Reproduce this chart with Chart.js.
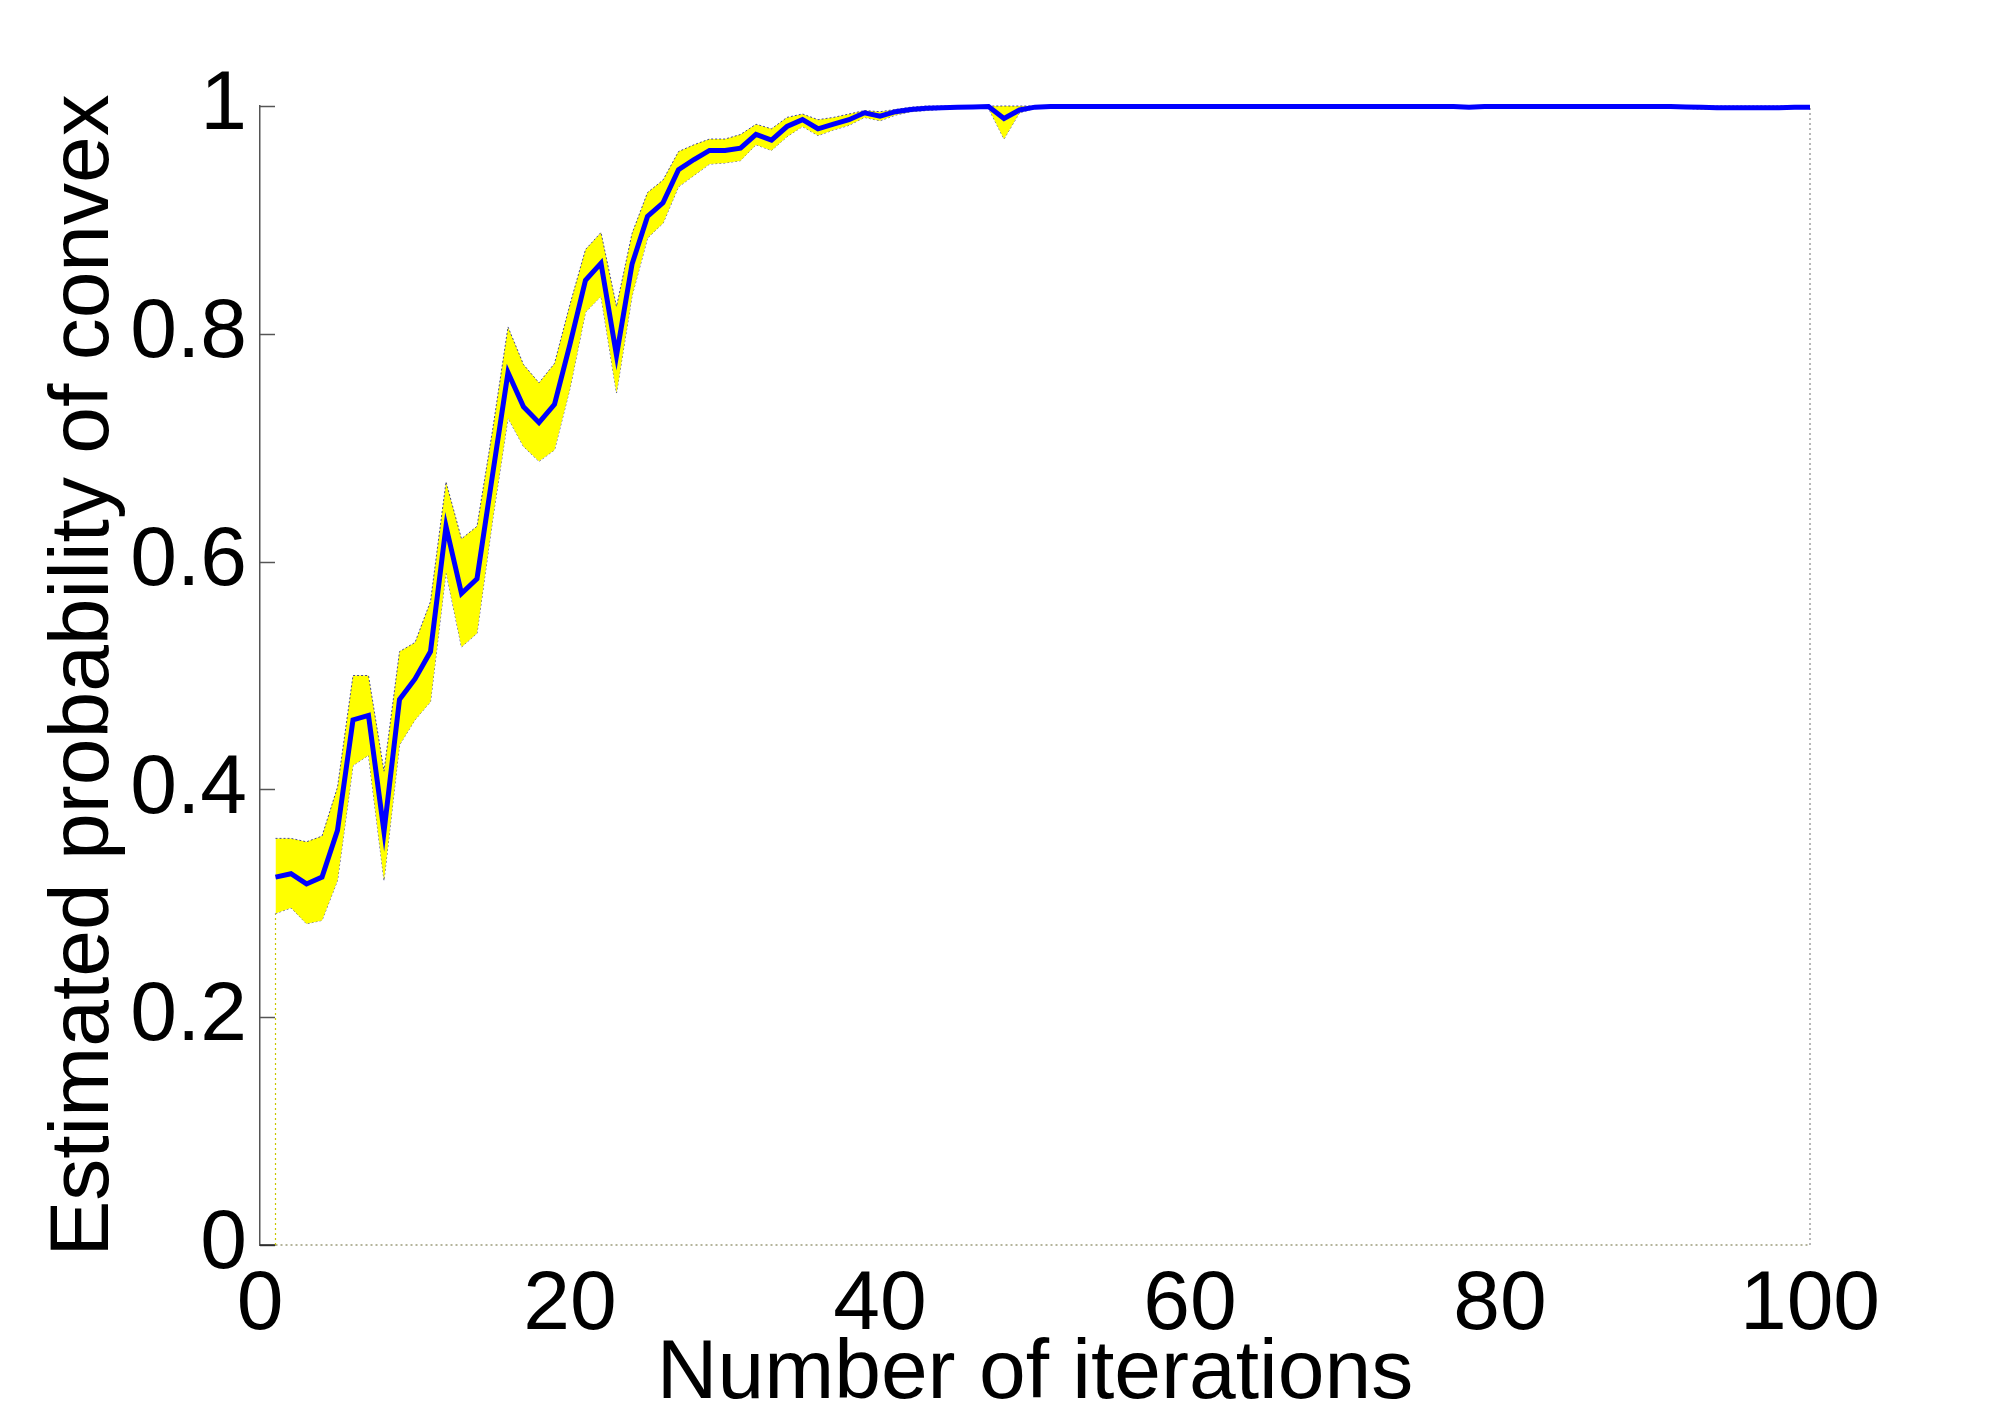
<!DOCTYPE html>
<html><head><meta charset="utf-8">
<script src="https://cdn.jsdelivr.net/npm/chart.js@4"></script>
<style>html,body{margin:0;padding:0;background:#fff;} canvas{display:block;}</style>
</head><body>
<canvas id="c" width="2000" height="1419"></canvas>
<script>
const iterations = Array.from({length: 100}, (_, i) => i + 1);
const meanProb = [
  0.323,0.326,0.317,0.323,0.364,0.461,0.465,0.363,0.479,0.497,
  0.521,0.631,0.572,0.585,0.676,0.766,0.736,0.722,0.738,0.791,
  0.847,0.862,0.781,0.861,0.903,0.915,0.944,0.953,0.961,0.961,
  0.963,0.975,0.970,0.982,0.988,0.980,0.984,0.988,0.994,0.991,
  0.995,0.997,0.998,0.9985,0.999,0.9992,0.9995,0.989,0.9965,0.999,
  0.9995,0.9995,0.9995,0.9995,0.9995,0.9995,0.9995,0.9995,0.9995,0.9995,
  0.9995,0.9995,0.9995,0.9995,0.9995,0.9995,0.9995,0.9995,0.9995,0.9995,
  0.9995,0.9995,0.9995,0.9995,0.9995,0.9995,0.9995,0.999,0.9995,0.9995,
  0.9995,0.9995,0.9995,0.9995,0.9995,0.9995,0.9995,0.9995,0.9995,0.9995,
  0.9995,0.9992,0.9988,0.9985,0.9985,0.9985,0.9985,0.9985,0.9988,0.999
];
const upperProb = [
  0.357,0.357,0.354,0.359,0.402,0.500,0.500,0.416,0.521,0.529,
  0.565,0.670,0.620,0.631,0.715,0.806,0.773,0.757,0.774,0.826,
  0.874,0.889,0.824,0.888,0.924,0.935,0.960,0.966,0.971,0.971,
  0.975,0.984,0.980,0.990,0.993,0.988,0.990,0.993,0.996,0.995,
  0.997,0.999,1,1,1,1,1,1,1,1,
  1,1,1,1,1,1,1,1,1,1,
  1,1,1,1,1,1,1,1,1,1,
  1,1,1,1,1,1,1,1,1,1,
  1,1,1,1,1,1,1,1,1,1,
  1,1,1,1,1,1,1,1,1,1
];
const lowerProb = [
  0.291,0.296,0.282,0.285,0.320,0.421,0.430,0.320,0.439,0.461,
  0.477,0.591,0.525,0.537,0.636,0.726,0.701,0.688,0.698,0.752,
  0.819,0.833,0.748,0.833,0.884,0.897,0.929,0.939,0.949,0.950,
  0.952,0.966,0.961,0.973,0.982,0.974,0.979,0.983,0.990,0.987,
  0.992,0.995,0.996,0.997,0.998,0.998,0.998,0.971,0.994,0.998,
  0.999,0.999,0.999,0.999,0.999,0.999,0.999,0.999,0.999,0.999,
  0.999,0.999,0.999,0.999,0.999,0.999,0.999,0.999,0.999,0.999,
  0.999,0.999,0.999,0.999,0.999,0.999,0.999,0.998,0.999,0.999,
  0.999,0.999,0.999,0.999,0.999,0.999,0.999,0.999,0.999,0.999,
  0.999,0.998,0.997,0.997,0.997,0.997,0.997,0.997,0.998,0.998
];
const xTickValues = [0, 20, 40, 60, 80, 100];
const yTickLabels = ['0', '0.2', '0.4', '0.6', '0.8', '1'];
const xTitle = 'Number of iterations';
const yTitle = 'Estimated probability of convex';

const pts = ys => iterations.map((x, i) => ({x: x, y: ys[i]}));
const firstIt = iterations[0];
const lastIt = iterations[iterations.length - 1];

const innerTicks = {
  id: 'innerTicks',
  beforeDatasetsDraw(chart) {
    const ys = chart.scales.y;
    const ctx = chart.ctx;
    ctx.save();
    ctx.strokeStyle = '#555';
    ctx.lineWidth = 1.5;
    ys.ticks.forEach(t => {
      const py = Math.round(ys.getPixelForValue(t.value)) + 0.5;
      ctx.beginPath();
      ctx.moveTo(ys.right, py);
      ctx.lineTo(ys.right + 15, py);
      ctx.stroke();
    });
    ctx.restore();
  }
};

const FONT = "'Liberation Sans', Arial, Helvetica, sans-serif";
const edgeStyle = {
  borderWidth: 1.2, borderDash: [2, 3], pointRadius: 0, fill: false, tension: 0
};

new Chart(document.getElementById('c'), {
  type: 'line',
  data: {
    datasets: [
      { label: 'mean', data: pts(meanProb), borderColor: '#0000ff', borderWidth: 5,
        pointRadius: 0, fill: false, tension: 0, order: 0, clip: 8 },
      { label: 'upper', data: pts(upperProb), borderColor: 'rgba(40,40,150,0.85)',
        backgroundColor: '#ffff00', borderWidth: 1, borderDash: [2, 2], pointRadius: 0,
        fill: '+1', tension: 0, order: 1, clip: 4 },
      { label: 'lower', data: pts(lowerProb), borderColor: 'rgba(40,40,150,0.85)',
        borderWidth: 1, borderDash: [2, 2], pointRadius: 0, fill: false, tension: 0, order: 2 },
      Object.assign({ label: 'leftEdge', data: [{x: firstIt, y: 0}, {x: firstIt, y: lowerProb[0]}],
        borderColor: '#c8c800', order: 3, clip: 4 }, edgeStyle),
      Object.assign({ label: 'rightEdge', data: [{x: lastIt, y: 0}, {x: lastIt, y: upperProb[upperProb.length - 1]}],
        borderColor: '#888', order: 3, clip: 4 }, edgeStyle),
      Object.assign({ label: 'bottomEdge', data: [{x: firstIt, y: 0}, {x: lastIt, y: 0}],
        borderColor: '#6b6b3a', order: 3, clip: 4 }, edgeStyle),
      { label: 'axisStub', data: [{x: 0, y: 0}, {x: firstIt, y: 0}], borderColor: '#222',
        borderWidth: 1.5, pointRadius: 0, fill: false, order: 3, clip: 4 }
    ]
  },
  options: {
    responsive: false,
    animation: false,
    devicePixelRatio: 1,
    layout: { padding: { left: 0, right: 190, top: 106, bottom: 0 } },
    plugins: { legend: { display: false }, tooltip: { enabled: false } },
    scales: {
      x: {
        type: 'linear', min: 0, max: 100,
        afterFit: s => { s.height = 174; },
        afterBuildTicks: s => { s.ticks = xTickValues.map(v => ({value: v})); },
        grid: { display: false },
        border: { display: false },
        ticks: { autoSkip: false, maxRotation: 0, padding: 2, color: '#000',
          font: { family: FONT, size: 84, lineHeight: 1.2 },
          callback: v => String(v) },
        title: { display: true, text: xTitle, color: '#000',
          font: { family: FONT, size: 84, lineHeight: 1 }, padding: { top: 0, bottom: 2 } }
      },
      y: {
        type: 'linear', min: 0, max: 1,
        afterFit: s => { s.width = 260; },
        afterBuildTicks: s => { s.ticks = yTickLabels.map(l => ({value: parseFloat(l)})); },
        grid: { display: false },
        border: { display: true, color: '#555', width: 1.5 },
        ticks: { padding: 5, color: '#000',
          font: { family: FONT, size: 84, lineHeight: 1.2 },
          callback: (v, i) => yTickLabels[i] },
        title: { display: true, text: yTitle, color: '#000',
          font: { family: FONT, size: 84, lineHeight: 1 }, padding: { top: 43, bottom: 0 } }
      }
    }
  },
  plugins: [innerTicks]
});
</script>
</body></html>
